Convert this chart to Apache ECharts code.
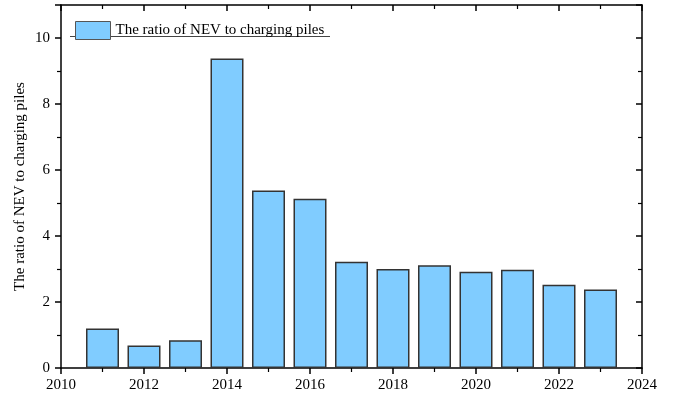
<!DOCTYPE html>
<html>
<head>
<meta charset="utf-8">
<script src="https://cdn.jsdelivr.net/npm/echarts@6/dist/echarts.min.js"></script>
<style>
  html, body { margin: 0; padding: 0; background: #fff; }
  #chart { width: 673px; height: 396px; }
</style>
</head>
<body>
<div id="chart"></div>
<script>
// Yearly ratio of new energy vehicles to charging piles
const years = [2011, 2012, 2013, 2014, 2015, 2016, 2017, 2018, 2019, 2020, 2021, 2022, 2023];
const ratios = [1.20, 0.68, 0.84, 9.38, 5.38, 5.13, 3.22, 3.00, 3.11, 2.92, 2.98, 2.52, 2.38];
const seriesName = 'The ratio of NEV to charging piles';
const yAxisTitle = 'The ratio of NEV to charging piles';

const font = 'Liberation Serif, Times New Roman, serif';
const axisLine = { show: true, onZero: false, lineStyle: { color: '#000', width: 1.5 } };

const chart = echarts.init(document.getElementById('chart'));
chart.setOption({
  animation: false,
  textStyle: { fontFamily: font },
  grid: { left: 61, right: 31, top: 5, bottom: 28 },
  legend: {
    left: 70, top: 16,
    icon: 'rect',
    itemWidth: 35, itemHeight: 18, itemGap: 6,
    itemStyle: { borderColor: '#555', borderWidth: 1 },
    textStyle: { fontFamily: font, fontSize: 15, color: '#000' },
    data: [seriesName]
  },
  graphic: [{
    type: 'line', shape: { x1: 70, y1: 36.5, x2: 330, y2: 36.5 },
    style: { stroke: '#444', lineWidth: 1 }
  }],
  xAxis: [{
    type: 'value', min: 2010, max: 2024, interval: 2,
    axisLine: axisLine,
    axisTick: { show: true, length: 6, lineStyle: { color: '#000', width: 1.5 } },
    minorTick: { show: true, splitNumber: 2, length: 4, lineStyle: { color: '#000', width: 1.2 } },
    axisLabel: { fontFamily: font, fontSize: 15, color: '#000', margin: 10, formatter: v => String(v) },
    splitLine: { show: false }
  }, {
    type: 'value', position: 'top', min: 2010, max: 2024, interval: 2,
    axisLine: axisLine,
    axisTick: { show: true, inside: true, length: 6, lineStyle: { color: '#000', width: 1.5 } },
    minorTick: { show: true, splitNumber: 2, length: 4, lineStyle: { color: '#000', width: 1.2 } },
    axisLabel: { show: false },
    splitLine: { show: false }
  }],
  yAxis: [{
    type: 'value', min: 0, max: 11, interval: 2,
    name: yAxisTitle, nameLocation: 'middle', nameGap: 33, nameMoveOverlap: false,
    nameTextStyle: { fontFamily: font, fontSize: 15, color: '#000' },
    axisLine: axisLine,
    axisTick: { show: true, length: 6, lineStyle: { color: '#000', width: 1.5 } },
    minorTick: { show: true, splitNumber: 2, length: 4, lineStyle: { color: '#000', width: 1.2 } },
    axisLabel: { fontFamily: font, fontSize: 15, color: '#000', margin: 11, showMaxLabel: false },
    splitLine: { show: false }
  }, {
    type: 'value', position: 'right', min: 0, max: 11, interval: 2,
    axisLine: axisLine,
    axisTick: { show: true, inside: true, length: 6, lineStyle: { color: '#000', width: 1.5 } },
    minorTick: { show: true, splitNumber: 2, length: 4, lineStyle: { color: '#000', width: 1.2 } },
    axisLabel: { show: false },
    splitLine: { show: false }
  }],
  series: [{
    name: seriesName,
    type: 'bar',
    xAxisIndex: 0, yAxisIndex: 0,
    barWidth: 33,
    data: years.map((y, i) => [y, ratios[i]]),
    itemStyle: { color: '#80CCFF', borderColor: '#333', borderWidth: 1.5 }
  }]
});
</script>
</body>
</html>
